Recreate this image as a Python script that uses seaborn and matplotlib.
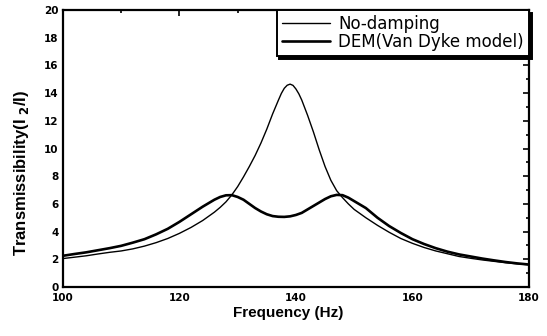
import numpy as np
import pandas as pd
import matplotlib
matplotlib.use("Agg")
import matplotlib.pyplot as plt
import seaborn as sns
from matplotlib.ticker import MultipleLocator

freq_nd = [100, 102, 104, 106, 108, 110, 112, 114, 116, 118, 120, 122, 124, 126, 127, 128,
           129, 130, 131, 132, 133, 134, 135, 136, 137, 137.5, 138, 138.5, 139, 139.5, 140,
           140.5, 141, 142, 143, 144, 145, 146, 147, 148, 149, 150, 152, 154, 156, 158, 160,
           162, 164, 166, 168, 170, 172, 174, 176, 178, 180]
no_damping = [2.05, 2.15, 2.25, 2.38, 2.5, 2.6, 2.75, 2.95, 3.2, 3.5, 3.87, 4.3, 4.8, 5.4, 5.75, 6.15,
              6.65, 7.25, 7.95, 8.7, 9.5, 10.4, 11.4, 12.5, 13.5, 13.98, 14.35, 14.57, 14.65, 14.56, 14.3,
              13.95, 13.5, 12.4, 11.2, 9.9, 8.7, 7.7, 6.95, 6.45, 6.0, 5.6, 5.0, 4.45, 3.95, 3.5, 3.15,
              2.85, 2.6, 2.4, 2.2, 2.07, 1.95, 1.85, 1.75, 1.67, 1.6]

freq_dem = [100, 102, 104, 106, 108, 110, 112, 114, 116, 118, 120, 122, 124, 125, 126, 127,
            128, 129, 130, 131, 132, 133, 134, 135, 136, 137, 138, 139, 140, 141, 142, 143,
            144, 145, 146, 147, 148, 149, 150, 152, 154, 156, 158, 160, 162, 164, 166, 168,
            170, 172, 174, 176, 178, 180]
dem = [2.25, 2.38, 2.5, 2.65, 2.8, 2.97, 3.2, 3.45, 3.8, 4.2, 4.7, 5.25, 5.8, 6.05, 6.3, 6.5,
       6.62, 6.63, 6.5, 6.3, 6.0, 5.7, 5.45, 5.25, 5.12, 5.07, 5.06, 5.1, 5.2, 5.35, 5.6, 5.85,
       6.1, 6.35, 6.55, 6.65, 6.63, 6.45, 6.2, 5.7, 5.0, 4.4, 3.9, 3.45, 3.1, 2.8, 2.55, 2.35,
       2.2, 2.05, 1.92, 1.8, 1.7, 1.62]

labels = ["No-damping", "DEM(Van Dyke model)"]

sns.set_theme(style="white")
plt.rcParams["font.family"] = ["Liberation Sans", "DejaVu Sans"]
plt.rcParams["text.color"] = "black"
plt.rcParams["axes.labelcolor"] = "black"

df_nd = pd.DataFrame({"f": freq_nd, "t": no_damping})
df_dem = pd.DataFrame({"f": freq_dem, "t": dem})

fig = plt.figure(figsize=(5.47, 3.36), dpi=100)
ax = fig.add_axes([0.115, 0.146, 0.852, 0.824])

sns.lineplot(data=df_nd, x="f", y="t", ax=ax, color="black", linewidth=1.0, label=labels[0])
sns.lineplot(data=df_dem, x="f", y="t", ax=ax, color="black", linewidth=1.9, label=labels[1])

ax.set_xlim(100, 180)
ax.set_ylim(0, 20)
ax.xaxis.set_major_locator(MultipleLocator(20))
ax.xaxis.set_minor_locator(MultipleLocator(10))
ax.yaxis.set_major_locator(MultipleLocator(2))
ax.yaxis.set_minor_locator(MultipleLocator(1))
ax.tick_params(which="both", direction="in", top=True, right=True, colors="black",
               labelsize=7.5, width=1.2)
ax.tick_params(axis="y", pad=3)
ax.tick_params(axis="x", pad=4.5)
ax.tick_params(which="major", length=4)
ax.tick_params(which="minor", length=2)
for lab in ax.get_xticklabels() + ax.get_yticklabels():
    lab.set_fontweight("bold")
    lab.set_family("DejaVu Sans")
for s in ax.spines.values():
    s.set_linewidth(1.6)
    s.set_color("black")

ax.set_xlabel("Frequency (Hz)", fontsize=11, fontweight="bold", color="black")
ax.set_ylabel("Transmissibility(I $_\\mathbf{2}$/I)", fontsize=12, fontweight="bold", color="black")
ax.xaxis.set_label_coords(0.483, -0.068)
ax.yaxis.set_label_coords(-0.068, 0.41)

leg = ax.legend(loc="upper right", borderaxespad=0, frameon=True, fancybox=False,
                shadow={"color": "black", "alpha": 1}, handlelength=2.9, borderpad=0.3,
                labelspacing=0.0, handletextpad=0.5,
                prop={"family": "DejaVu Sans", "size": 12})
for t in leg.get_texts():
    t.set_color("black")
leg.get_frame().set_edgecolor("black")
leg.get_frame().set_linewidth(1.4)
leg.get_frame().set_facecolor("white")
leg.get_frame().set_alpha(1)

fig.savefig("out.png", dpi=100)
